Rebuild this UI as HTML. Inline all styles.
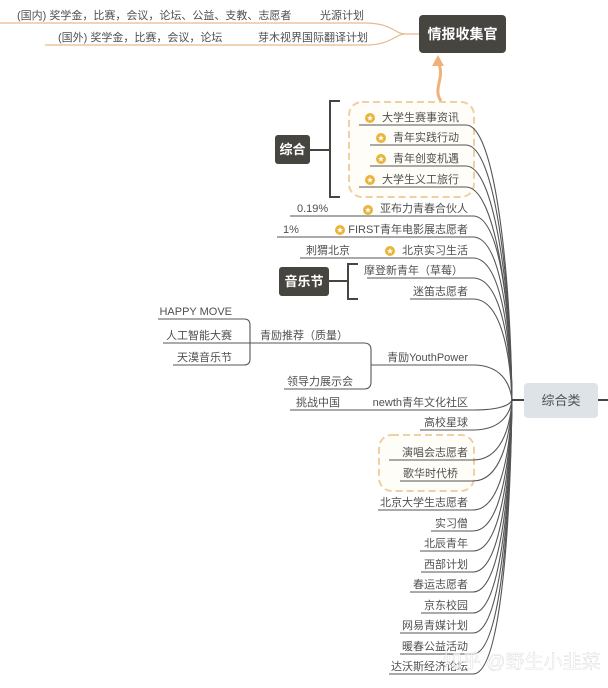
<!DOCTYPE html>
<html><head><meta charset="utf-8"><style>
html,body{margin:0;padding:0;background:#fff;}
svg{display:block;}
text{font-family:"Liberation Sans","Noto Sans CJK SC",sans-serif;font-size:11px;fill:#505050;}
.b{font-weight:bold;fill:#fff;font-size:13px;}
</style></head><body>
<svg width="608" height="688" viewBox="0 0 608 688" xmlns="http://www.w3.org/2000/svg">
<defs>
<g id="star"><circle r="5" fill="#eab43a"/><path d="M0,-3 L0.9,-0.9 L3,-0.9 L1.3,0.5 L1.9,2.6 L0,1.4 L-1.9,2.6 L-1.3,0.5 L-3,-0.9 L-0.9,-0.9Z" fill="#fff"/></g>
</defs>
<g fill="none" stroke="#e8b98e" stroke-width="1.2">
<path d="M0,23 L365,23 C392,23 395,34 405,34 L419,34"/>
<path d="M45,45 L365,45 C392,45 395,34 405,34"/>
</g>
<text x="17" y="19">(国内) 奖学金，比赛，会议，论坛、公益、支教、志愿者</text>
<text x="320" y="19">光源计划</text>
<text x="58" y="41">(国外) 奖学金，比赛，会议，论坛</text>
<text x="258" y="41">芽木视界国际翻译计划</text>
<rect x="419" y="15" width="87" height="38" rx="4" fill="#474540"/>
<text x="462.5" y="39" text-anchor="middle" class="b" style="font-size:14px">情报收集官</text>
<path d="M441,101 C432,88 446,78 438,62" fill="none" stroke="#f0b27a" stroke-width="3"/>
<path d="M432,66 L438,55 L444,66Z" fill="#f0b27a"/>

<rect x="349" y="102" width="125" height="95" rx="13" fill="#fffdf8" stroke="#efcfa4" stroke-width="2" stroke-dasharray="7,4"/>
<rect x="379" y="435" width="95" height="56" rx="13" fill="#fffdf8" stroke="#efcfa4" stroke-width="2" stroke-dasharray="7,4"/>

<rect x="275" y="135" width="35" height="29" rx="3" fill="#474540"/>
<text x="292.5" y="154" text-anchor="middle" class="b">综合</text>
<path d="M340,101 L330,101 L330,197 L340,197 M310,150 L330,150" fill="none" stroke="#474540" stroke-width="2"/>
<rect x="279" y="267" width="50" height="29" rx="3" fill="#474540"/>
<text x="304" y="286" text-anchor="middle" class="b">音乐节</text>
<path d="M358,264 L348,264 L348,299 L358,299 M329,281 L348,281" fill="none" stroke="#474540" stroke-width="2"/>

<g fill="none" stroke="#555" stroke-width="1.1">
<path d="M359,125 H466 C494,125 510,262 512,400"/>
<path d="M370,145 H466 C494,145 510,272 512,400"/>
<path d="M370,166 H466 C494,166 510,283 512,400"/>
<path d="M359,187 H466 C494,187 510,293 512,400"/>
<path d="M290,216 H473 C500,216 510,308 512,400"/>
<path d="M277,237 H473 C500,237 510,318 512,400"/>
<path d="M300,258 H473 C500,258 510,329 512,400"/>
<path d="M367,278 H473 C500,278 510,339 512,400"/>
<path d="M410,299 H473 C500,299 510,349 512,400"/>
<path d="M371,365 H473 C500,365 510,382 512,400"/>
<path d="M290,410 H473 C500,410 510,405 512,400"/>
<path d="M420,430 H473 C500,430 510,415 512,400"/>
<path d="M389,460 H473 C500,460 510,430 512,400"/>
<path d="M400,481 H473 C500,481 510,440 512,400"/>
<path d="M378,510 H473 C500,510 510,455 512,400"/>
<path d="M431,531 H473 C500,531 510,465 512,400"/>
<path d="M420,551 H473 C500,551 510,475 512,400"/>
<path d="M421,572 H473 C500,572 510,486 512,400"/>
<path d="M410,592 H473 C500,592 510,496 512,400"/>
<path d="M421,613 H473 C500,613 510,506 512,400"/>
<path d="M400,633 H473 C500,633 510,516 512,400"/>
<path d="M400,654 H473 C500,654 510,527 512,400"/>
<path d="M389,674 H473 C500,674 510,537 512,400"/>
<path d="M158,319 H244 Q250,319 250,325 V359 Q250,365 244,365 H173"/>
<path d="M163,343 H364 Q371,343 371,350 V382 Q371,389 364,389 H284"/>
</g>
<path d="M512,400 H524 M598,400 H608" stroke="#444" stroke-width="2"/>
<rect x="524" y="383" width="74" height="35" rx="4" fill="#dde3e6"/>
<text x="561" y="405" text-anchor="middle" style="font-size:13px">综合类</text>

<use href="#star" x="370" y="118"/>
<use href="#star" x="381" y="138"/>
<use href="#star" x="381" y="159"/>
<use href="#star" x="370" y="180"/>
<use href="#star" x="368" y="210"/>
<use href="#star" x="340" y="230"/>
<use href="#star" x="390" y="251"/>

<g text-anchor="end">
<text x="459" y="121">大学生赛事资讯</text>
<text x="459" y="141">青年实践行动</text>
<text x="459" y="162">青年创变机遇</text>
<text x="459" y="183">大学生义工旅行</text>
<text x="468" y="212">亚布力青春合伙人</text>
<text x="468" y="233">FIRST青年电影展志愿者</text>
<text x="468" y="254">北京实习生活</text>
<text x="463" y="274">摩登新青年（草莓）</text>
<text x="468" y="295">迷笛志愿者</text>
<text x="468" y="361">青励YouthPower</text>
<text x="468" y="406">newth青年文化社区</text>
<text x="468" y="426">高校星球</text>
<text x="468" y="456">演唱会志愿者</text>
<text x="458" y="477">歌华时代桥</text>
<text x="468" y="506">北京大学生志愿者</text>
<text x="468" y="527">实习僧</text>
<text x="468" y="547">北辰青年</text>
<text x="468" y="568">西部计划</text>
<text x="468" y="588">春运志愿者</text>
<text x="468" y="609">京东校园</text>
<text x="468" y="629">网易青媒计划</text>
<text x="468" y="650">暖春公益活动</text>
<text x="468" y="670">达沃斯经济论坛</text>
<text x="232" y="315">HAPPY MOVE</text>
<text x="232" y="339">人工智能大赛</text>
<text x="232" y="361">天漠音乐节</text>
<text x="348" y="339">青励推荐（质量）</text>
<text x="353" y="385">领导力展示会</text>
</g>
<text x="297" y="212">0.19%</text>
<text x="283" y="233">1%</text>
<text x="306" y="254">刺猬北京</text>
<text x="296" y="406">挑战中国</text>
<text x="443" y="668" style="font-size:19px;fill:#fff;fill-opacity:0.75;stroke:#999;stroke-width:0.3;stroke-opacity:0.5">知乎 @野生小韭菜</text>
</svg>
</body></html>
